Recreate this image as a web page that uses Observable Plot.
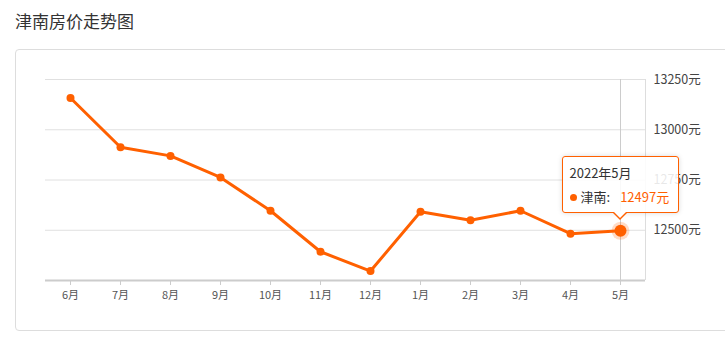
<!DOCTYPE html>
<html><head><meta charset="utf-8">
<script src="https://cdn.jsdelivr.net/npm/d3@7"></script>
<script src="https://cdn.jsdelivr.net/npm/@observablehq/plot@0.6"></script>
<style>
body{margin:0;width:725px;height:346px;overflow:hidden;position:relative;background:#fff;font-family:"Noto Sans CJK SC","Noto Sans",sans-serif;}
#title{position:absolute;left:15px;top:8px;font-size:17px;color:#333;line-height:26px;white-space:nowrap;}
#box{position:absolute;left:15px;top:49px;width:740px;height:280px;border:1px solid #ddd;border-radius:4px;}
#chart{position:absolute;left:0;top:49px;}
#tip{position:absolute;width:115px;height:55px;border:1px solid #ff6000;border-radius:3px;background:rgba(255,255,255,0.88);box-shadow:0 0 5px rgba(0,0,0,0.15);font-size:13px;color:#333;}
#tip .l1{position:absolute;left:7px;top:6px;line-height:20px;white-space:nowrap;}
#tip .l2{position:absolute;left:7px;top:30px;line-height:20px;white-space:nowrap;}
#tip .dot{display:inline-block;width:7px;height:7px;border-radius:50%;background:#ff6000;margin-right:4px;vertical-align:1px;}
#tip .val{color:#ff6000;margin-left:10px;}
#tip .arr1,#tip .arr2{position:absolute;left:50%;width:0;height:0;border-style:solid;}
#tip .arr1{bottom:-8px;margin-left:-8px;border-width:8px 8px 0 8px;border-color:#ff6000 transparent transparent transparent;}
#tip .arr2{bottom:-6px;margin-left:-7px;border-width:7px 7px 0 7px;border-color:#fff transparent transparent transparent;}
</style></head><body>
<div id="title">津南房价走势图</div>
<div id="box"></div>
<div id="chart"></div>
<script>
const months = ["6月","7月","8月","9月","10月","11月","12月","1月","2月","3月","4月","5月"];
const prices = [13158, 12913, 12870, 12763, 12597, 12393, 12297, 12592, 12550, 12597, 12483, 12497];
const yTicks = [12500, 12750, 13000, 13250];
const yMin = 12250;
const seriesName = "津南";
const tipTitle = "2022年5月";
const unit = "元";

const data = months.map((m, i) => ({i, m, v: prices[i]}));
const last = data[data.length - 1];
const color = "#ff6000";

const plot = Plot.plot({
  width: 725, height: 297,
  marginTop: 30, marginBottom: 66, marginLeft: 45, marginRight: 80,
  x: {type: "linear", domain: [-0.5, months.length - 0.5]},
  y: {domain: [yMin, yTicks[yTicks.length - 1]]},
  style: {fontFamily: '"Noto Sans CJK SC","Noto Sans",sans-serif', background: "transparent"},
  marks: [
    Plot.ruleY(yTicks, {stroke: "#e0e0e0", strokeWidth: 1}),
    Plot.ruleX([months.length - 0.5], {stroke: "#ddd"}),
    Plot.ruleX([last.i], {stroke: "#ccc"}),
    Plot.ruleY([yMin], {stroke: "#ccc", strokeWidth: 2}),
    Plot.axisX(d3.range(months.length), {tickFormat: i => months[i], tickSize: 5, tickPadding: 6, stroke: "#ccc", fill: "#555", fontSize: 11, label: null}),
    Plot.axisY(yTicks, {anchor: "right", tickSize: 0, tickPadding: 8, tickFormat: d => d + unit, fill: "#444", fontSize: 12.5, label: null}),
    Plot.line(data, {x: "i", y: "v", stroke: color, strokeWidth: 3}),
    Plot.dot(data, {x: "i", y: "v", r: 4, fill: color}),
    Plot.dot([last], {x: "i", y: "v", r: 9, fill: color, fillOpacity: 0.22}),
    Plot.dot([last], {x: "i", y: "v", r: 6, fill: color})
  ]
});
document.getElementById("chart").appendChild(plot);

const px = plot.scale("x").apply(last.i);
const py = plot.scale("y").apply(last.v) + 49;
const tip = document.createElement("div");
tip.id = "tip";
tip.innerHTML = `<div class="l1">${tipTitle}</div><div class="l2"><span class="dot"></span>${seriesName}:<span class="val">${last.v}${unit}</span></div><div class="arr1"></div><div class="arr2"></div>`;
tip.style.left = (px - 58.5) + "px";
tip.style.top = (py - 74) + "px";
document.body.appendChild(tip);
</script>
</body></html>
